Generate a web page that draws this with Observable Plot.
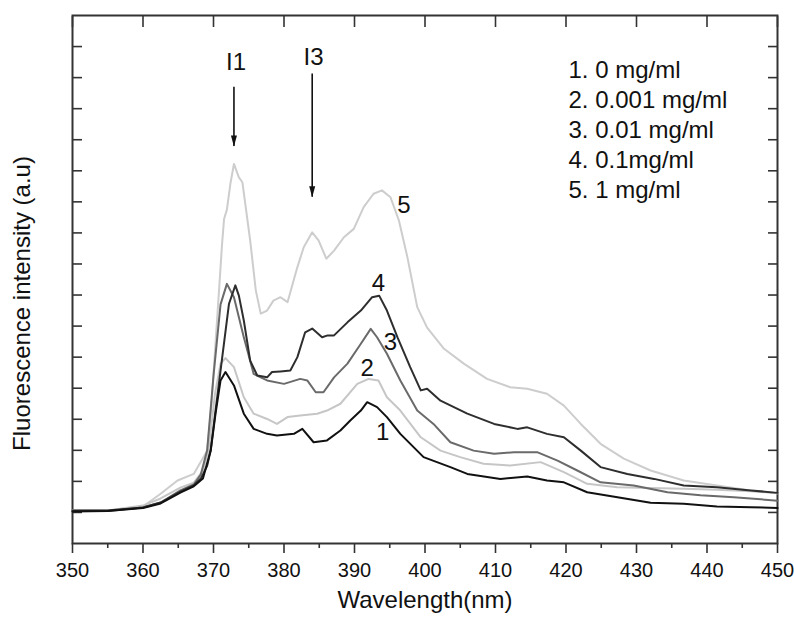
<!DOCTYPE html>
<html><head><meta charset="utf-8">
<script src="https://cdn.jsdelivr.net/npm/d3@7"></script>
<script src="https://cdn.jsdelivr.net/npm/@observablehq/plot@0.6"></script>
<style>body{margin:0;background:#fff;}</style>
</head><body><div id="chart"></div>
<script>
// Series 1: 0 mg/ml
const wl1 = [350,355,360,362.5,365.3,367.2,368.5,369.6,370.3,371.0,371.7,372.9,374.3,375.7,377.6,379.0,381.4,382.6,384.2,386.1,388.0,389.4,390.9,391.8,393.2,394.6,396.5,399.8,403.6,406.0,410.7,414.5,417.3,419.7,423.0,427.3,432.0,436.7,441.4,446.2,450];
const int1 = [1.03,1.05,1.14,1.29,1.64,1.84,2.09,2.99,4.2,5.25,5.52,5.09,4.18,3.69,3.53,3.48,3.53,3.69,3.26,3.32,3.64,3.96,4.28,4.55,4.39,4.07,3.53,2.78,2.46,2.24,2.08,2.16,2.03,1.97,1.65,1.49,1.31,1.28,1.19,1.17,1.14];
// Series 2: 0.001 mg/ml
const wl2 = [350,355,360,362.5,365.3,367.2,368.5,369.3,370.2,371.0,371.7,372.9,374.3,375.7,377.6,379.0,380.5,382.3,384.7,386.1,388.0,390.4,392.0,393.4,394.6,396.5,399.4,402.2,405.0,408.3,412.1,416.4,419.7,423.0,427.3,432.0,436.7,441.4,446.2,450];
const int2 = [1.06,1.06,1.22,1.45,1.80,1.96,2.35,2.99,4.8,5.79,5.97,5.68,4.71,4.18,4.01,3.85,4.07,4.12,4.18,4.28,4.50,5.14,5.30,5.25,4.71,4.28,3.42,2.99,2.78,2.57,2.51,2.62,2.30,1.92,1.81,1.79,1.76,1.73,1.68,1.62];
// Series 3: 0.01 mg/ml
const wl3 = [350,355,360,362.5,365.3,367.2,368.2,369.1,370.0,371.0,371.9,372.9,374.3,375.7,377.6,380.0,382.3,383.3,384.5,385.6,387.1,389.0,390.9,392.3,393.2,394.6,396.5,398.9,401.2,403.6,406.9,409.8,412.6,415.9,418.8,421.6,424.9,429.6,434.4,439.1,443.8,450];
const int3 = [1.05,1.05,1.16,1.32,1.71,1.90,2.22,3.0,5.4,7.7,8.36,7.93,6.64,5.46,5.25,5.14,5.30,5.25,4.87,4.87,5.35,5.79,6.43,6.91,6.64,6.11,5.25,4.28,3.85,3.26,2.99,2.89,2.94,2.94,2.67,2.35,1.97,1.87,1.65,1.55,1.49,1.38];
// Series 4: 0.1 mg/ml
const wl4 = [350,355,360,362.5,365.3,367.2,368.2,369.1,369.6,370.3,371.0,372.2,373.1,373.6,374.3,375.2,376.2,377.6,378.3,379.5,380.9,381.9,383.0,384.0,385.4,386.2,387.1,389.0,390.9,392.5,393.5,394.6,396.1,397.9,399.4,400.3,402.2,406.0,409.8,413.1,414.5,417.3,419.7,422.1,424.9,428.7,432.5,436.7,441.4,446.2,450];
const int4 = [1.06,1.06,1.16,1.32,1.67,1.87,2.09,2.5,3.0,4.3,5.57,7.72,8.31,7.98,7.18,5.89,5.41,5.35,5.52,5.54,5.57,6.00,6.80,6.92,6.64,6.70,6.70,7.12,7.50,7.93,7.98,7.50,6.64,5.68,4.93,4.98,4.60,4.18,3.85,3.69,3.74,3.53,3.42,2.99,2.46,2.24,2.08,1.87,1.81,1.71,1.63];
// Series 5: 1 mg/ml
const wl5 = [350,355,360,362.5,364.9,367.2,369.1,369.7,370.3,370.8,371.2,371.5,371.9,372.4,372.9,373.6,374.1,375.2,376.0,376.7,377.6,378.5,379.5,380.5,381.9,382.8,384.0,384.9,386.0,387.1,388.5,389.9,391.3,392.7,393.9,395.1,396.3,397.5,398.9,400.3,402.7,405.5,408.8,412.1,414.5,417.3,419.7,422.1,424.9,428.2,432.0,436.7,441.4,446.2,450];
const int5 = [1.06,1.06,1.19,1.60,2.03,2.24,2.99,4.4,6.5,8.2,9.6,10.45,10.75,11.59,12.22,11.79,11.63,9.76,8.15,7.40,7.50,7.82,7.93,7.77,8.90,9.54,10.02,9.76,9.17,9.43,9.86,10.13,10.83,11.26,11.37,11.15,10.40,9.22,7.61,6.95,6.27,5.79,5.30,5.03,4.98,4.82,4.44,3.85,3.21,2.73,2.35,2.03,1.87,1.71,1.62];

const seriesNames = ["1", "2", "3", "4", "5"];
const seriesColors = ["#111111", "#c6c6c6", "#6a6a6a", "#2e2e2e", "#cdcdcd"];
const drawOrder = [4, 1, 2, 3, 0];

const legendLines = ["1. 0 mg/ml", "2. 0.001 mg/ml", "3. 0.01 mg/ml", "4. 0.1mg/ml", "5. 1 mg/ml"];

// curve number labels
const labelText = ["1", "2", "3", "4", "5"];
const labelX = [394.0, 391.8, 395.1, 393.4, 397.0];
const labelY = [3.57, 5.63, 6.47, 8.37, 10.88];

// I1 / I3 annotations
const annText = ["I1", "I3"];
const annX = [373.2, 384.2];
const annY = [15.49, 15.66];
const arrowX = [372.9, 384.0];
const arrowTop = [14.69, 15.12];
const arrowTip = [12.78, 11.15];

const xMajor = d3.range(350, 451, 10);
const xMinor = d3.range(355, 450, 10);
const yTicks = d3.range(1, 17);

const wls = [wl1, wl2, wl3, wl4, wl5];
const ints = [int1, int2, int3, int4, int5];
const rows = [];
for (const i of drawOrder) {
  wls[i].forEach((w, j) => rows.push({series: seriesNames[i], color: seriesColors[i], wavelength: w, intensity: ints[i][j]}));
}
const labels = labelText.map((t, i) => ({t, x: labelX[i], y: labelY[i]}));
const anns = annText.map((t, i) => ({t, x: annX[i], y: annY[i], ax: arrowX[i], y1: arrowTop[i], y2: arrowTip[i]}));

const headSymbol = {
  draw(context) {
    context.moveTo(0, 0);
    context.lineTo(-3, -11);
    context.lineTo(3, -11);
    context.closePath();
  }
};

const font = "'Liberation Sans', Arial, Helvetica, sans-serif";

const chart = Plot.plot({
  width: 794,
  height: 624,
  marginLeft: 72,
  marginRight: 17,
  marginTop: 15,
  marginBottom: 81,
  x: {domain: [350, 450]},
  y: {domain: [0, 17]},
  color: {type: "identity"},
  style: {fontFamily: font, fontSize: "20px", color: "#111", background: "#fff", overflow: "visible"},
  marks: [
    Plot.axisX(xMajor, {anchor: "bottom", tickSize: 10, tickPadding: 9, tickFormat: d => String(d), label: null, stroke: "#333", strokeWidth: 1.6, fontSize: 20}),
    Plot.axisX(xMinor, {anchor: "bottom", tickSize: 5, tickFormat: () => "", label: null, stroke: "#333", strokeWidth: 1.6}),
    Plot.axisX(xMajor, {anchor: "top", tickSize: -11, tickFormat: () => "", label: null, stroke: "#333", strokeWidth: 1.6}),
    Plot.axisY(yTicks, {anchor: "left", tickSize: -10, tickFormat: () => "", label: null, stroke: "#333", strokeWidth: 1.6}),
    Plot.axisY(yTicks, {anchor: "right", tickSize: -10, tickFormat: () => "", label: null, stroke: "#333", strokeWidth: 1.6}),
    Plot.frame({stroke: "#333", strokeWidth: 2}),
    Plot.line(rows, {x: "wavelength", y: "intensity", z: "series", stroke: "color", strokeWidth: 2, curve: "linear"}),
    Plot.text(labels, {x: "x", y: "y", text: "t", fontSize: 24, fill: "#111"}),
    Plot.text(anns, {x: "x", y: "y", text: "t", fontSize: 24, fill: "#111"}),
    Plot.ruleX(anns, {x: "ax", y1: "y1", y2: "y2", stroke: "#111", strokeWidth: 1.6}),
    Plot.dot(anns, {x: "ax", y: "y2", symbol: headSymbol, fill: "#111", stroke: null, r: 4}),
    Plot.text([legendLines.join("\n")], {frameAnchor: "top-left", dx: 496, dy: 41, lineAnchor: "top", textAnchor: "start", lineHeight: 1.25, fontSize: 24, fill: "#111"}),
    Plot.text(["Wavelength(nm)"], {frameAnchor: "bottom", dy: 64, fontSize: 24, fill: "#111"}),
    Plot.text(["Fluorescence intensity (a.u)"], {frameAnchor: "left", textAnchor: "middle", dx: -50, dy: 24, rotate: -90, fontSize: 24, fill: "#111"})
  ]
});
document.getElementById("chart").appendChild(chart);
</script>
</body></html>
